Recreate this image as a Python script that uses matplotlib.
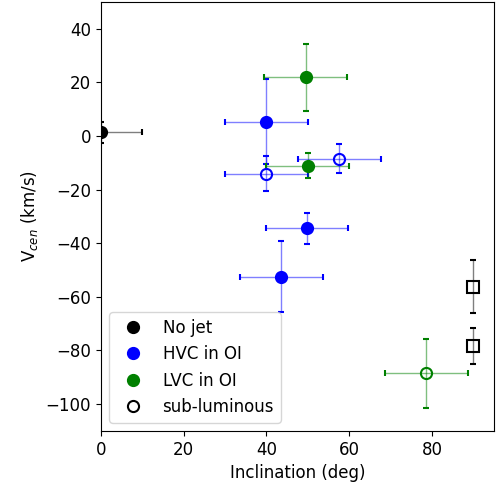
import numpy as np
import matplotlib.pyplot as plt
from matplotlib.lines import Line2D

# inclination (deg), centroid velocity (km/s) and errors
incl = [0.0, 40.0, 49.5, 40.0, 50.0, 57.6, 49.8, 43.6, 90.0, 90.0, 78.6]
vcen = [1.4, 5.4, 22.0, -14.0, -11.1, -8.4, -34.5, -52.5, -56.2, -78.4, -88.5]
incl_err = [10, 10, 10, 10, 10, 10, 10, 10, 0, 0, 10]
vcen_err = [4.0, 15.8, 12.5, 6.5, 4.7, 5.3, 5.6, 13.3, 10.0, 6.7, 12.9]
colors = ['k', 'b', 'g', 'b', 'g', 'b', 'b', 'b', 'k', 'k', 'g']
filled = [True, True, True, False, True, False, True, True, False, False, False]
markers = ['o', 'o', 'o', 'o', 'o', 'o', 'o', 'o', 's', 's', 'o']

legend_labels = ['No jet', 'HVC in OI', 'LVC in OI', 'sub-luminous']
legend_colors = ['k', 'b', 'g', 'k']
legend_filled = [True, True, True, False]

plt.rcParams['font.size'] = 12

fig, ax = plt.subplots(figsize=(4.97, 4.88), dpi=100)
fig.subplots_adjust(left=0.203, right=0.994, top=0.996, bottom=0.117)

for i in range(len(incl)):
    xe = incl_err[i] if incl_err[i] > 0 else None
    mfc = colors[i] if filled[i] else 'none'
    ms = 8 if markers[i] == 'o' else 9
    mk, caps, bars = ax.errorbar(incl[i], vcen[i], xerr=xe, yerr=vcen_err[i],
                                 fmt=markers[i], color=colors[i], mfc=mfc,
                                 mec=colors[i], ms=ms, mew=1.5,
                                 elinewidth=1, capsize=2, capthick=1.5)
    for b in bars:
        b.set_alpha(0.5)

ax.set_xlim(0, 95)
ax.set_ylim(-110, 50)
ax.set_xlabel('Inclination (deg)')
ax.set_ylabel('V$_{cen}$ (km/s)')

handles = []
for lab, c, f in zip(legend_labels, legend_colors, legend_filled):
    handles.append(Line2D([], [], ls='none', marker='o', color=c,
                          mfc=c if f else 'none', mec=c, ms=8, mew=1.5, label=lab))
ax.legend(handles=handles, loc='lower left')

plt.savefig('out.png')
